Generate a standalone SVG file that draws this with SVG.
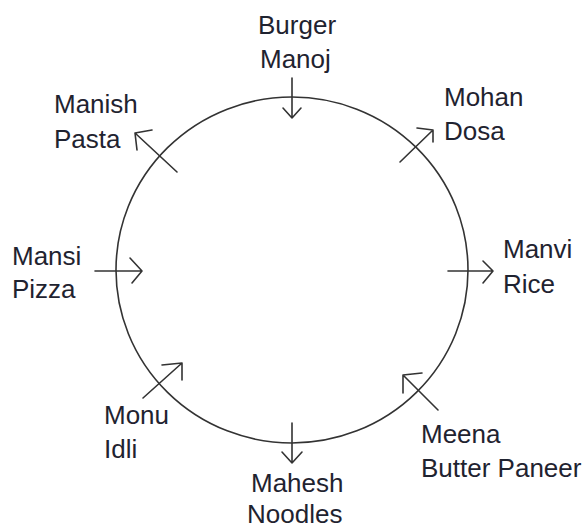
<svg xmlns="http://www.w3.org/2000/svg" width="587" height="530" viewBox="0 0 587 530">
<style>
  text { font-family: "Liberation Sans", Arial, sans-serif; font-size: 26px; fill: #1f2330; }
  .ring { fill: none; stroke: #333; stroke-width: 1.6; }
  .arr { fill: none; stroke: #333; stroke-width: 1.6; stroke-linecap: round; stroke-linejoin: round; }
</style>
<rect width="587" height="530" fill="#fff"/>
<g id="table">
  <ellipse class="ring" cx="292" cy="270" rx="176" ry="173"/>
</g>
<g id="burger-manoj"><text x="258" y="34">Burger</text><text x="260" y="68">Manoj</text></g>
<g id="manish-pasta"><text x="54" y="113">Manish</text><text x="54" y="148">Pasta</text></g>
<g id="mohan-dosa"><text x="444" y="106">Mohan</text><text x="444" y="140">Dosa</text></g>
<g id="mansi-pizza"><text x="12" y="265">Mansi</text><text x="12" y="298">Pizza</text></g>
<g id="manvi-rice"><text x="503" y="258">Manvi</text><text x="503" y="293">Rice</text></g>
<g id="monu-idli"><text x="104" y="424">Monu</text><text x="104" y="458">Idli</text></g>
<g id="meena-butter-paneer"><text x="421" y="443">Meena</text><text x="421" y="477">Butter Paneer</text></g>
<g id="mahesh-noodles"><text x="251" y="492">Mahesh</text><text x="247" y="523">Noodles</text></g>
<g id="connectors">
  <path class="arr" d="M292 78 V118 M283 108 L292 118 L301 108"/>
  <path class="arr" d="M292 423 V463 M282 452 L292 463 L302 452"/>
  <path class="arr" d="M95 271 H142 M130 258 L142 271 L132 283"/>
  <path class="arr" d="M448 271 H493 M483 261 L493 271 L483 283"/>
  <path class="arr" d="M177 172 L135 133 M137 150 L135 133 L152 130"/>
  <path class="arr" d="M400 162 L433 130 M417 128 L433 130 L433 142"/>
  <path class="arr" d="M143 398 L182 363 M162 365 L182 363 L182 380"/>
  <path class="arr" d="M438 410 L403 375 M422 373 L403 375 L403 393"/>
</g>
</svg>
